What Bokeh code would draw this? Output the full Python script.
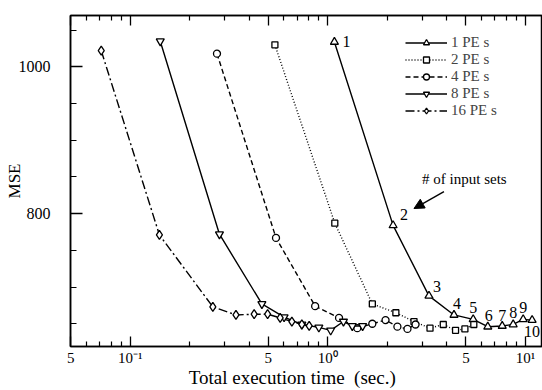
from bokeh.plotting import figure
from bokeh.models import FixedTicker, LogAxis, Label, Arrow, NormalHead, Legend, LegendItem
from bokeh.core.properties import value
from bokeh.embed import file_html
from bokeh.resources import INLINE

FONT = "Liberation Serif"

# ---- data ----
pe1_x = [1.08, 2.14, 3.25, 4.35, 5.44, 6.45, 7.63, 8.67, 9.74, 10.81]
pe1_y = [1034, 784, 688, 662, 656, 646, 647, 649, 656, 655]
pe2_x = [0.54, 1.085, 1.68, 2.21, 2.73, 3.29, 3.84, 4.43, 4.94, 5.48]
pe2_y = [1030, 787, 677, 665, 653, 644, 649, 641, 643, 649]
pe4_x = [0.275, 0.547, 0.863, 1.14, 1.41, 1.68, 1.96, 2.25, 2.53, 2.78]
pe4_y = [1018, 767, 674, 658, 644, 650, 655, 646, 643, 649]
pe8_x = [0.142, 0.283, 0.464, 0.601, 0.739, 0.901, 1.034, 1.20, 1.33, 1.50]
pe8_y = [1035, 772, 677, 659, 649, 645, 641, 653, 647, 647]
pe16_x = [0.0714, 0.1406, 0.262, 0.343, 0.424, 0.496, 0.574, 0.658, 0.739, 0.805]
pe16_y = [1022, 771, 673, 662, 663, 663, 658, 653, 649, 647]

set_labels = ["1", "2", "3", "4", "5", "6", "7", "8", "9", "10"]
series_names = ["1 PE s", "2 PE s", "4 PE s", "8 PE s", "16 PE s"]

x_major = [0.05, 0.1, 0.5, 1, 5, 10]
x_major_labels = ["5", "10\u207b\u00b9", "5", "10\u2070", "5", "10\u00b9"]
x_minor = [0.06, 0.07, 0.08, 0.09, 0.2, 0.3, 0.4, 0.6, 0.7, 0.8, 0.9,
           2, 3, 4, 6, 7, 8, 9]
y_major = [800, 1000]
y_minor = [650, 700, 750, 850, 900, 950, 1050]

# label offsets (screen px) for the "# of input sets" numbers
lab_dx = [12, 11, 8, 3, 0, 1, 0, 0, 0, 0]
lab_dy = [0, -11, -9, -11, -12, -11, -10, -12, -12, 11]

p = figure(width=542, height=390, x_axis_type="log",
           x_range=(0.0499, 12.2), y_range=(619, 1070),
           output_backend="svg", toolbar_location=None,
           min_border_left=70, min_border_right=0,
           min_border_top=15, min_border_bottom=41)
p.xgrid.visible = False
p.ygrid.visible = False
p.outline_line_color = "black"
p.outline_line_width = 1.5
p.outline_line_alpha = 1.0
p.background_fill_color = "white"
p.border_fill_color = "white"

def style_axis(ax, major_in, minor_in):
    ax.axis_line_color = "black"
    ax.axis_line_width = 1.5
    ax.major_tick_in = major_in
    ax.major_tick_out = 0
    ax.minor_tick_in = minor_in
    ax.minor_tick_out = 0
    ax.major_tick_line_width = 1.3
    ax.minor_tick_line_width = 1.2
    ax.major_tick_line_color = "black"
    ax.minor_tick_line_color = "black"
    ax.major_label_text_font = FONT
    ax.axis_label_text_font = FONT
    ax.axis_label_text_font_style = "normal"
    ax.major_label_text_color = "black"
    ax.axis_label_text_color = "black"

xax = p.xaxis[0]
xax.ticker = FixedTicker(ticks=x_major, minor_ticks=x_minor)
xax.major_label_overrides = {t: l for t, l in zip(x_major, x_major_labels)}
style_axis(xax, 10, 5)
xax.major_label_text_font_size = "15px"
xax.major_label_standoff = 3
xax.axis_label = "Total execution time\u00a0\u00a0(sec.)" + "\u00a0" * 6
xax.axis_label_text_font_size = "19px"
xax.axis_label_standoff = -2

yax = p.yaxis[0]
yax.ticker = FixedTicker(ticks=y_major, minor_ticks=y_minor)
style_axis(yax, 12, 6)
yax.major_label_text_font_size = "16px"
yax.major_label_standoff = 20
yax.axis_label = "MSE"
yax.axis_label_text_font_size = "17px"
yax.axis_label_standoff = -8

top = LogAxis(ticker=FixedTicker(ticks=x_major, minor_ticks=x_minor))
style_axis(top, 10, 5)
top.major_label_overrides = {t: "" for t in x_major}
top.major_label_text_font_size = "1px"
top.major_label_standoff = 0
p.add_layout(top, "above")

series = [
    (pe1_x, pe1_y, "solid", "triangle", 8),
    (pe2_x, pe2_y, "1 2", "square", 6),
    (pe4_x, pe4_y, "5 3", "circle", 7),
    (pe8_x, pe8_y, "solid", "inverted_triangle", 8),
    (pe16_x, pe16_y, "9 3 2 3", "diamond", 9),
]

items = []
for (xs, ys, dash, marker, size), name in zip(series, series_names):
    ln = p.line(xs, ys, line_color="black", line_width=1.4, line_dash=dash)
    sc = p.scatter(xs, ys, marker=marker, size=size, line_color="black",
                   line_width=1.3, fill_color="white")
    items.append(LegendItem(label=name, renderers=[ln, sc]))

legend = Legend(items=items, location=(335, 227),
                label_text_font=FONT, label_text_font_size="15px",
                glyph_width=42, glyph_height=15, label_height=15,
                spacing=0, padding=0, margin=0, label_standoff=4,
                border_line_color=None, background_fill_alpha=0)
p.add_layout(legend)

p.text(x=pe1_x, y=pe1_y, text=set_labels, x_offset=lab_dx, y_offset=lab_dy,
       text_font=value(FONT), text_font_size="16px", text_color="black",
       text_align="center", text_baseline="middle")

p.add_layout(Label(x=3.0, y=847, text="# of input sets", text_font=FONT,
                   text_font_size="15px", text_baseline="middle",
                   text_color="black"))
p.add_layout(Arrow(end=NormalHead(size=10, fill_color="black", line_color="black"),
                   x_start=3.87, y_start=830, x_end=2.73, y_end=807,
                   line_color="black", line_width=1.4))

open("out.html", "w").write(file_html(p, INLINE))
